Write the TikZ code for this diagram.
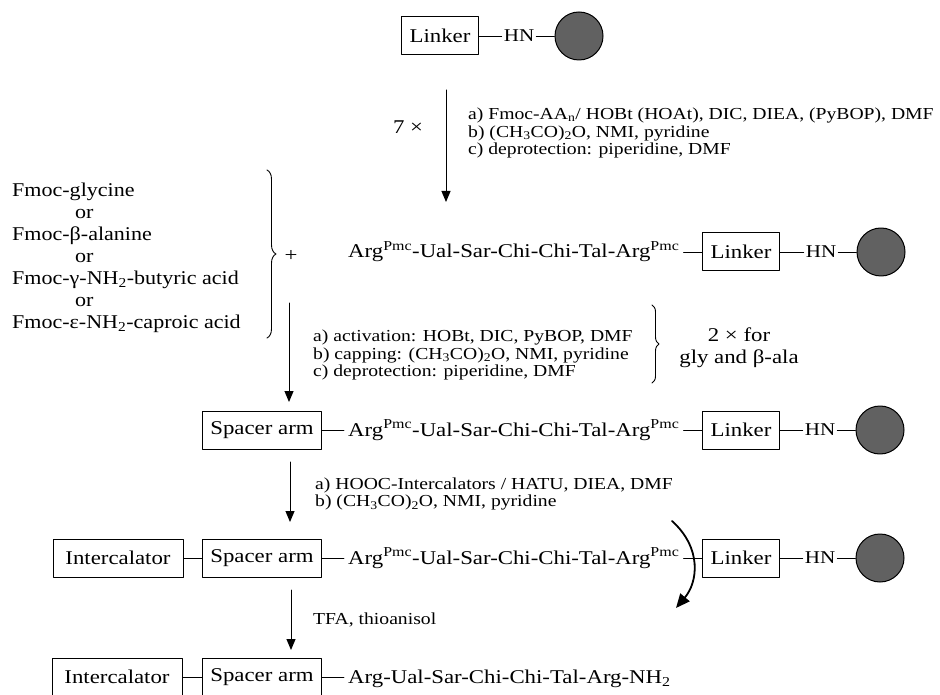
\documentclass[tikz,border=0pt]{standalone}
\usepackage{fontspec}
\setmainfont[FakeStretch=1.17]{Liberation Serif}
\newfontfamily\listfont[FakeStretch=1.13]{Liberation Serif}
\usetikzlibrary{arrows.meta,decorations.pathreplacing}
\begin{document}
\begin{tikzpicture}[x=1pt, y=-1pt, line join=round, line cap=round,
	box/.style={draw, line width=1pt, minimum height=38pt, inner xsep=8pt, font=\fontsize{19.5}{22}\selectfont},
	txt/.style={inner sep=0pt, font=\fontsize{19.5}{22}\selectfont},
	chain/.style={inner xsep=4pt, inner ysep=0pt, anchor=base west, font=\fontsize{19.5}{22}\selectfont},
	hn/.style={inner xsep=2pt, inner ysep=0pt, font=\fontsize{18}{20}\selectfont},
	cond/.style={inner sep=0pt, align=left, anchor=west, font=\fontsize{16.8}{17.8}\selectfont},
	bead/.style={circle, draw, line width=1pt, fill=black!62, minimum size=48pt, inner sep=0pt},
	bond/.style={line width=0.9pt},
	reac/.style={line width=1pt, -{Triangle[length=11pt, width=9pt]}},
	cut/.style={line width=1.8pt, -{Triangle[length=14pt, width=12pt]}},
	brc/.style={line width=0.9pt, decorate}]
	\useasboundingbox (0,0) rectangle (940,695);
	\coordinate (a1s) at (446,90); \coordinate (a1e) at (446,202);
	\coordinate (a2s) at (289,303); \coordinate (a2e) at (289,402);
	\coordinate (a3s) at (290,462); \coordinate (a3e) at (290,522);
	\coordinate (a4s) at (291,590); \coordinate (a4e) at (291,650);
	\coordinate (b1t) at (267,170); \coordinate (b1b) at (267,338);
	\coordinate (b2t) at (652,305); \coordinate (b2b) at (652,383);
	\coordinate (cutA) at (672,521); \coordinate (cutB) at (676,608);
	\node[box] (L1) at (440,36) {Linker};
	\node[hn] (H1) at (519,36) {HN};
	\node[bead] (R1) at (579,36) {};
	\draw[bond] (L1.east) -- (H1.west);
	\draw[bond] (H1.east) -- (R1.west);
	\draw[reac] (a1s) -- (a1e);
	\node[txt] (n7) at (408,127) {7 ×};
	\node[cond] (c1) at (468,133) {a) Fmoc-AA\textsubscript{n}/ HOBt (HOAt), DIC, DIEA, (PyBOP), DMF\\b) (CH\textsubscript{3}CO)\textsubscript{2}O, NMI, pyridine\\c) deprotection: piperidine, DMF};
	\node[txt, align=left, anchor=west, font=\listfont\fontsize{19.5}{22}\selectfont] (acids) at (12,258) {Fmoc-glycine\\\hspace*{63pt}or\\Fmoc-β-alanine\\\hspace*{63pt}or\\Fmoc-γ-NH\textsubscript{2}-butyric acid\\\hspace*{63pt}or\\Fmoc-ε-NH\textsubscript{2}-caproic acid};
	\draw[brc, decoration={brace, amplitude=9pt}] (b1t) -- (b1b);
	\node[txt] (plus) at (291,256) {+};
	\node[chain] (P2) at (344,258) {Arg\textsuperscript{Pmc}-Ual-Sar-Chi-Chi-Tal-Arg\textsuperscript{Pmc}};
	\node[box] (L2) at (741,252) {Linker};
	\node[hn] (H2) at (821,252) {HN};
	\node[bead] (R2) at (881,252) {};
	\draw[bond] (P2.east |- L2.west) -- (L2.west);
	\draw[bond] (L2.east) -- (H2.west);
	\draw[bond] (H2.east) -- (R2.west);
	\draw[reac] (a2s) -- (a2e);
	\node[cond] (c2) at (313,355) {a) activation: HOBt, DIC, PyBOP, DMF\\b) capping: (CH\textsubscript{3}CO)\textsubscript{2}O, NMI, pyridine\\c) deprotection: piperidine, DMF};
	\draw[brc, decoration={brace, amplitude=7pt}] (b2t) -- (b2b);
	\node[txt, align=center] (twice) at (739,348) {2 × for\\gly and β-ala};
	\node[box] (S3) at (262,430) {Spacer arm};
	\node[chain] (P3) at (344,436) {Arg\textsuperscript{Pmc}-Ual-Sar-Chi-Chi-Tal-Arg\textsuperscript{Pmc}};
	\node[box] (L3) at (741,430) {Linker};
	\node[hn] (H3) at (820,430) {HN};
	\node[bead] (R3) at (880,430) {};
	\draw[bond] (S3.east) -- (P3.west |- S3.east);
	\draw[bond] (P3.east |- L3.west) -- (L3.west);
	\draw[bond] (L3.east) -- (H3.west);
	\draw[bond] (H3.east) -- (R3.west);
	\draw[reac] (a3s) -- (a3e);
	\node[cond] (c3) at (315,494) {a) HOOC-Intercalators / HATU, DIEA, DMF\\b) (CH\textsubscript{3}CO)\textsubscript{2}O, NMI, pyridine};
	\node[box, minimum width=130pt] (I4) at (118,558) {Intercalator};
	\node[box] (S4) at (262,558) {Spacer arm};
	\node[chain] (P4) at (344,564) {Arg\textsuperscript{Pmc}-Ual-Sar-Chi-Chi-Tal-Arg\textsuperscript{Pmc}};
	\node[box] (L4) at (741,558) {Linker};
	\node[hn] (H4) at (820,558) {HN};
	\node[bead] (R4) at (880,558) {};
	\draw[bond] (I4.east) -- (S4.west);
	\draw[bond] (S4.east) -- (P4.west |- S4.east);
	\draw[bond] (P4.east |- L4.west) -- (L4.west);
	\draw[bond] (L4.east) -- (H4.west);
	\draw[bond] (H4.east) -- (R4.west);
	\draw[cut] (cutA) .. controls (702,548) and (698,582) .. (cutB);
	\draw[reac] (a4s) -- (a4e);
	\node[cond] (c4) at (313,620) {TFA, thioanisol};
	\node[box, minimum width=130pt] (I5) at (117,677) {Intercalator};
	\node[box] (S5) at (262,677) {Spacer arm};
	\node[chain] (P5) at (344,683) {Arg-Ual-Sar-Chi-Chi-Tal-Arg-NH\textsubscript{2}};
	\draw[bond] (I5.east) -- (S5.west);
	\draw[bond] (S5.east) -- (P5.west |- S5.east);
\end{tikzpicture}
\end{document}
